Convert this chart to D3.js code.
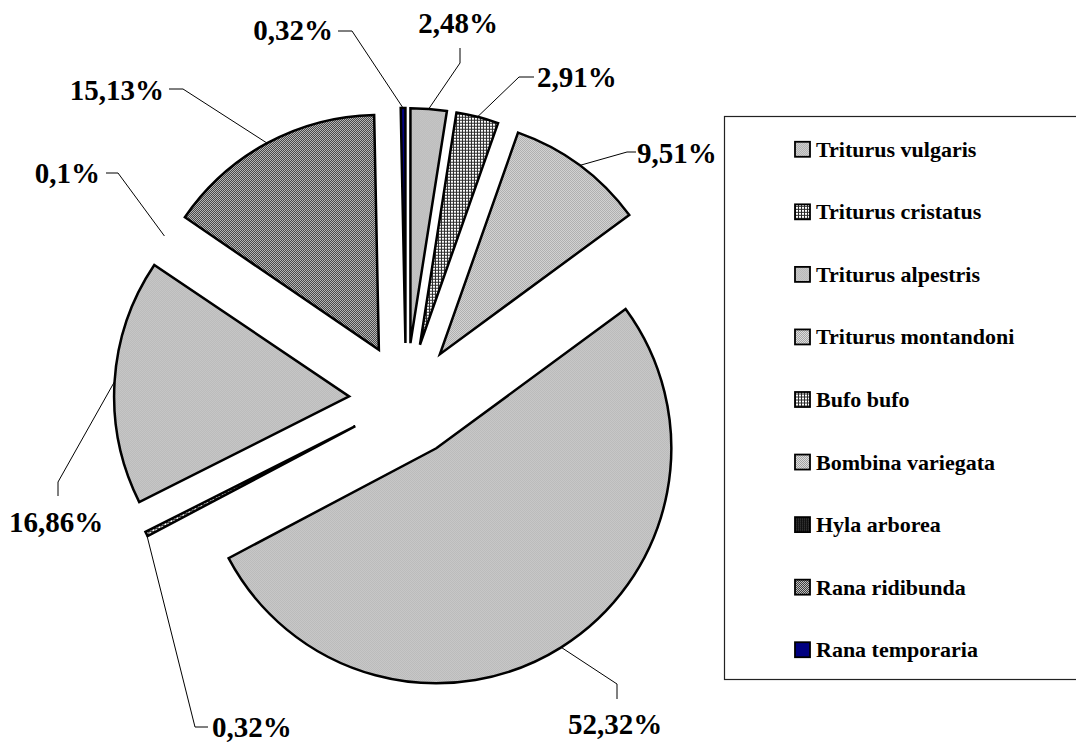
<!DOCTYPE html>
<html>
<head>
<meta charset="utf-8">
<script src="https://cdn.jsdelivr.net/npm/d3@7/dist/d3.min.js"></script>
<style>
  html, body { margin: 0; padding: 0; background: #ffffff; }
  svg { display: block; }
  text { font-family: "Liberation Serif", "Times New Roman", serif; font-weight: bold; fill: #000; }
</style>
</head>
<body>
<script>
// ---------- data ----------
const categories = [
  "Triturus vulgaris", "Triturus cristatus", "Triturus alpestris", "Triturus montandoni",
  "Bufo bufo", "Bombina variegata", "Hyla arborea", "Rana ridibunda", "Rana temporaria"
];
const shares = [2.48, 2.91, 9.51, 52.32, 0.32, 16.86, 0.1, 15.13, 0.32];

// ---------- styles (fill pattern id per category) ----------
const fillKeys = ["pLight", "pGrid", "pLight", "pLight", "pGrid", "pLight", "pDark", "pChecker", "solidNavy"];
const hiddenSlice = [false, false, false, false, false, false, true, false, false];

// ---------- label layout (text position + leader elbow/end) ----------
const labelLayout = [
  { tx: 458, ty: 33,  anchor: "middle", elbow: [460, 63],  end: [460, 48] },
  { tx: 537, ty: 87,  anchor: "start",  elbow: [519, 77],  end: [534, 77] },
  { tx: 637, ty: 163, anchor: "start",  elbow: [627, 152], end: [636, 152] },
  { tx: 615, ty: 734, anchor: "middle", elbow: [617, 684], end: [617, 699] },
  { tx: 212, ty: 737, anchor: "start",  elbow: [195, 727], end: [208, 727] },
  { tx: 56,  ty: 532, anchor: "middle", elbow: [58, 482],  end: [58, 496] },
  { tx: 100, ty: 183, anchor: "end",    elbow: [118, 173], end: [106, 173] },
  { tx: 164, ty: 100, anchor: "end",    elbow: [183, 89],  end: [169, 89] },
  { tx: 333, ty: 40,  anchor: "end",    elbow: [352, 31],  end: [338, 31] }
];

const W = 1076, H = 744;
const cx = 406, cy = 400, R = 235, explode = 57;

const svg = d3.select("body").append("svg").attr("width", W).attr("height", H);
const defs = svg.append("defs");

// light dithered gray
const pl = defs.append("pattern").attr("id", "pLight").attr("patternUnits", "userSpaceOnUse")
  .attr("width", 2).attr("height", 2);
pl.append("rect").attr("width", 2).attr("height", 2).attr("fill", "#e2e2e2");
pl.append("rect").attr("x", 0).attr("y", 0).attr("width", 1).attr("height", 1).attr("fill", "#a0a0a0");
pl.append("rect").attr("x", 1).attr("y", 1).attr("width", 1).attr("height", 1).attr("fill", "#a0a0a0");

// grid pattern
const pg = defs.append("pattern").attr("id", "pGrid").attr("patternUnits", "userSpaceOnUse")
  .attr("width", 3).attr("height", 3);
pg.append("rect").attr("width", 3).attr("height", 3).attr("fill", "#ffffff");
pg.append("rect").attr("width", 3).attr("height", 1).attr("fill", "#2a2a2a");
pg.append("rect").attr("width", 1).attr("height", 3).attr("fill", "#2a2a2a");

// checker (darker)
const pc = defs.append("pattern").attr("id", "pChecker").attr("patternUnits", "userSpaceOnUse")
  .attr("width", 2).attr("height", 2);
pc.append("rect").attr("width", 2).attr("height", 2).attr("fill", "#e0e0e0");
pc.append("rect").attr("x", 0).attr("y", 0).attr("width", 1).attr("height", 1).attr("fill", "#1e1e1e");
pc.append("rect").attr("x", 1).attr("y", 1).attr("width", 1).attr("height", 1).attr("fill", "#1e1e1e");

// dark
const pd = defs.append("pattern").attr("id", "pDark").attr("patternUnits", "userSpaceOnUse")
  .attr("width", 2).attr("height", 2);
pd.append("rect").attr("width", 2).attr("height", 2).attr("fill", "#111111");
pd.append("rect").attr("x", 0).attr("y", 0).attr("width", 1).attr("height", 1).attr("fill", "#444444");

const fillOf = k => k === "solidNavy" ? "#000080" : `url(#${k})`;

const data = categories.map((c, i) => ({ name: c, v: shares[i], i }));
const pie = d3.pie().sort(null).value(d => d.v).startAngle(0).endAngle(2 * Math.PI);
const arcs = pie(data);
const arcGen = d3.arc().innerRadius(0).outerRadius(R);

const mid = a => (a.startAngle + a.endAngle) / 2;
const offsetOf = a => [cx + explode * Math.sin(mid(a)), cy - explode * Math.cos(mid(a))];

// slices
const sliceG = svg.append("g");
sliceG.selectAll("path").data(arcs).join("path")
  .attr("transform", a => { const o = offsetOf(a); return `translate(${o[0]},${o[1]})`; })
  .attr("d", arcGen)
  .attr("fill", a => hiddenSlice[a.data.i] ? "none" : fillOf(fillKeys[a.data.i]))
  .attr("stroke", a => hiddenSlice[a.data.i] ? "none" : "#000")
  .attr("stroke-width", 2.5)
  .attr("stroke-linejoin", "miter");

// leader lines
const fmt = v => String(v).replace(".", ",") + "%";
const leaderG = svg.append("g");
arcs.forEach(a => {
  const L = labelLayout[a.data.i];
  const o = offsetOf(a);
  const m = mid(a);
  const p0 = [o[0] + R * Math.sin(m), o[1] - R * Math.cos(m)];
  leaderG.append("polyline")
    .attr("points", [p0, L.elbow, L.end].map(p => p.join(",")).join(" "))
    .attr("fill", "none").attr("stroke", "#000").attr("stroke-width", 1);
  leaderG.append("text")
    .attr("x", L.tx).attr("y", L.ty)
    .attr("text-anchor", L.anchor)
    .attr("font-size", 29)
    .text(fmt(a.data.v));
});

// legend
const legend = svg.append("g");
legend.append("rect")
  .attr("x", 724.5).attr("y", 116.5).attr("width", 400).attr("height", 563)
  .attr("fill", "#fff").attr("stroke", "#222").attr("stroke-width", 1.2);
const ly = d3.scaleBand().domain(categories).range([118, 681]);
const items = legend.selectAll("g.item").data(categories).join("g")
  .attr("class", "item")
  .attr("transform", c => `translate(0,${ly(c) + ly.bandwidth() / 2})`);
items.append("rect")
  .attr("x", 795).attr("y", -7.5).attr("width", 15).attr("height", 15)
  .attr("fill", (c, i) => fillOf(fillKeys[i]))
  .attr("stroke", "#000").attr("stroke-width", 1.8);
items.append("text")
  .attr("x", 816).attr("y", 7.5)
  .attr("font-size", 22)
  .text(c => c);
</script>
</body>
</html>
